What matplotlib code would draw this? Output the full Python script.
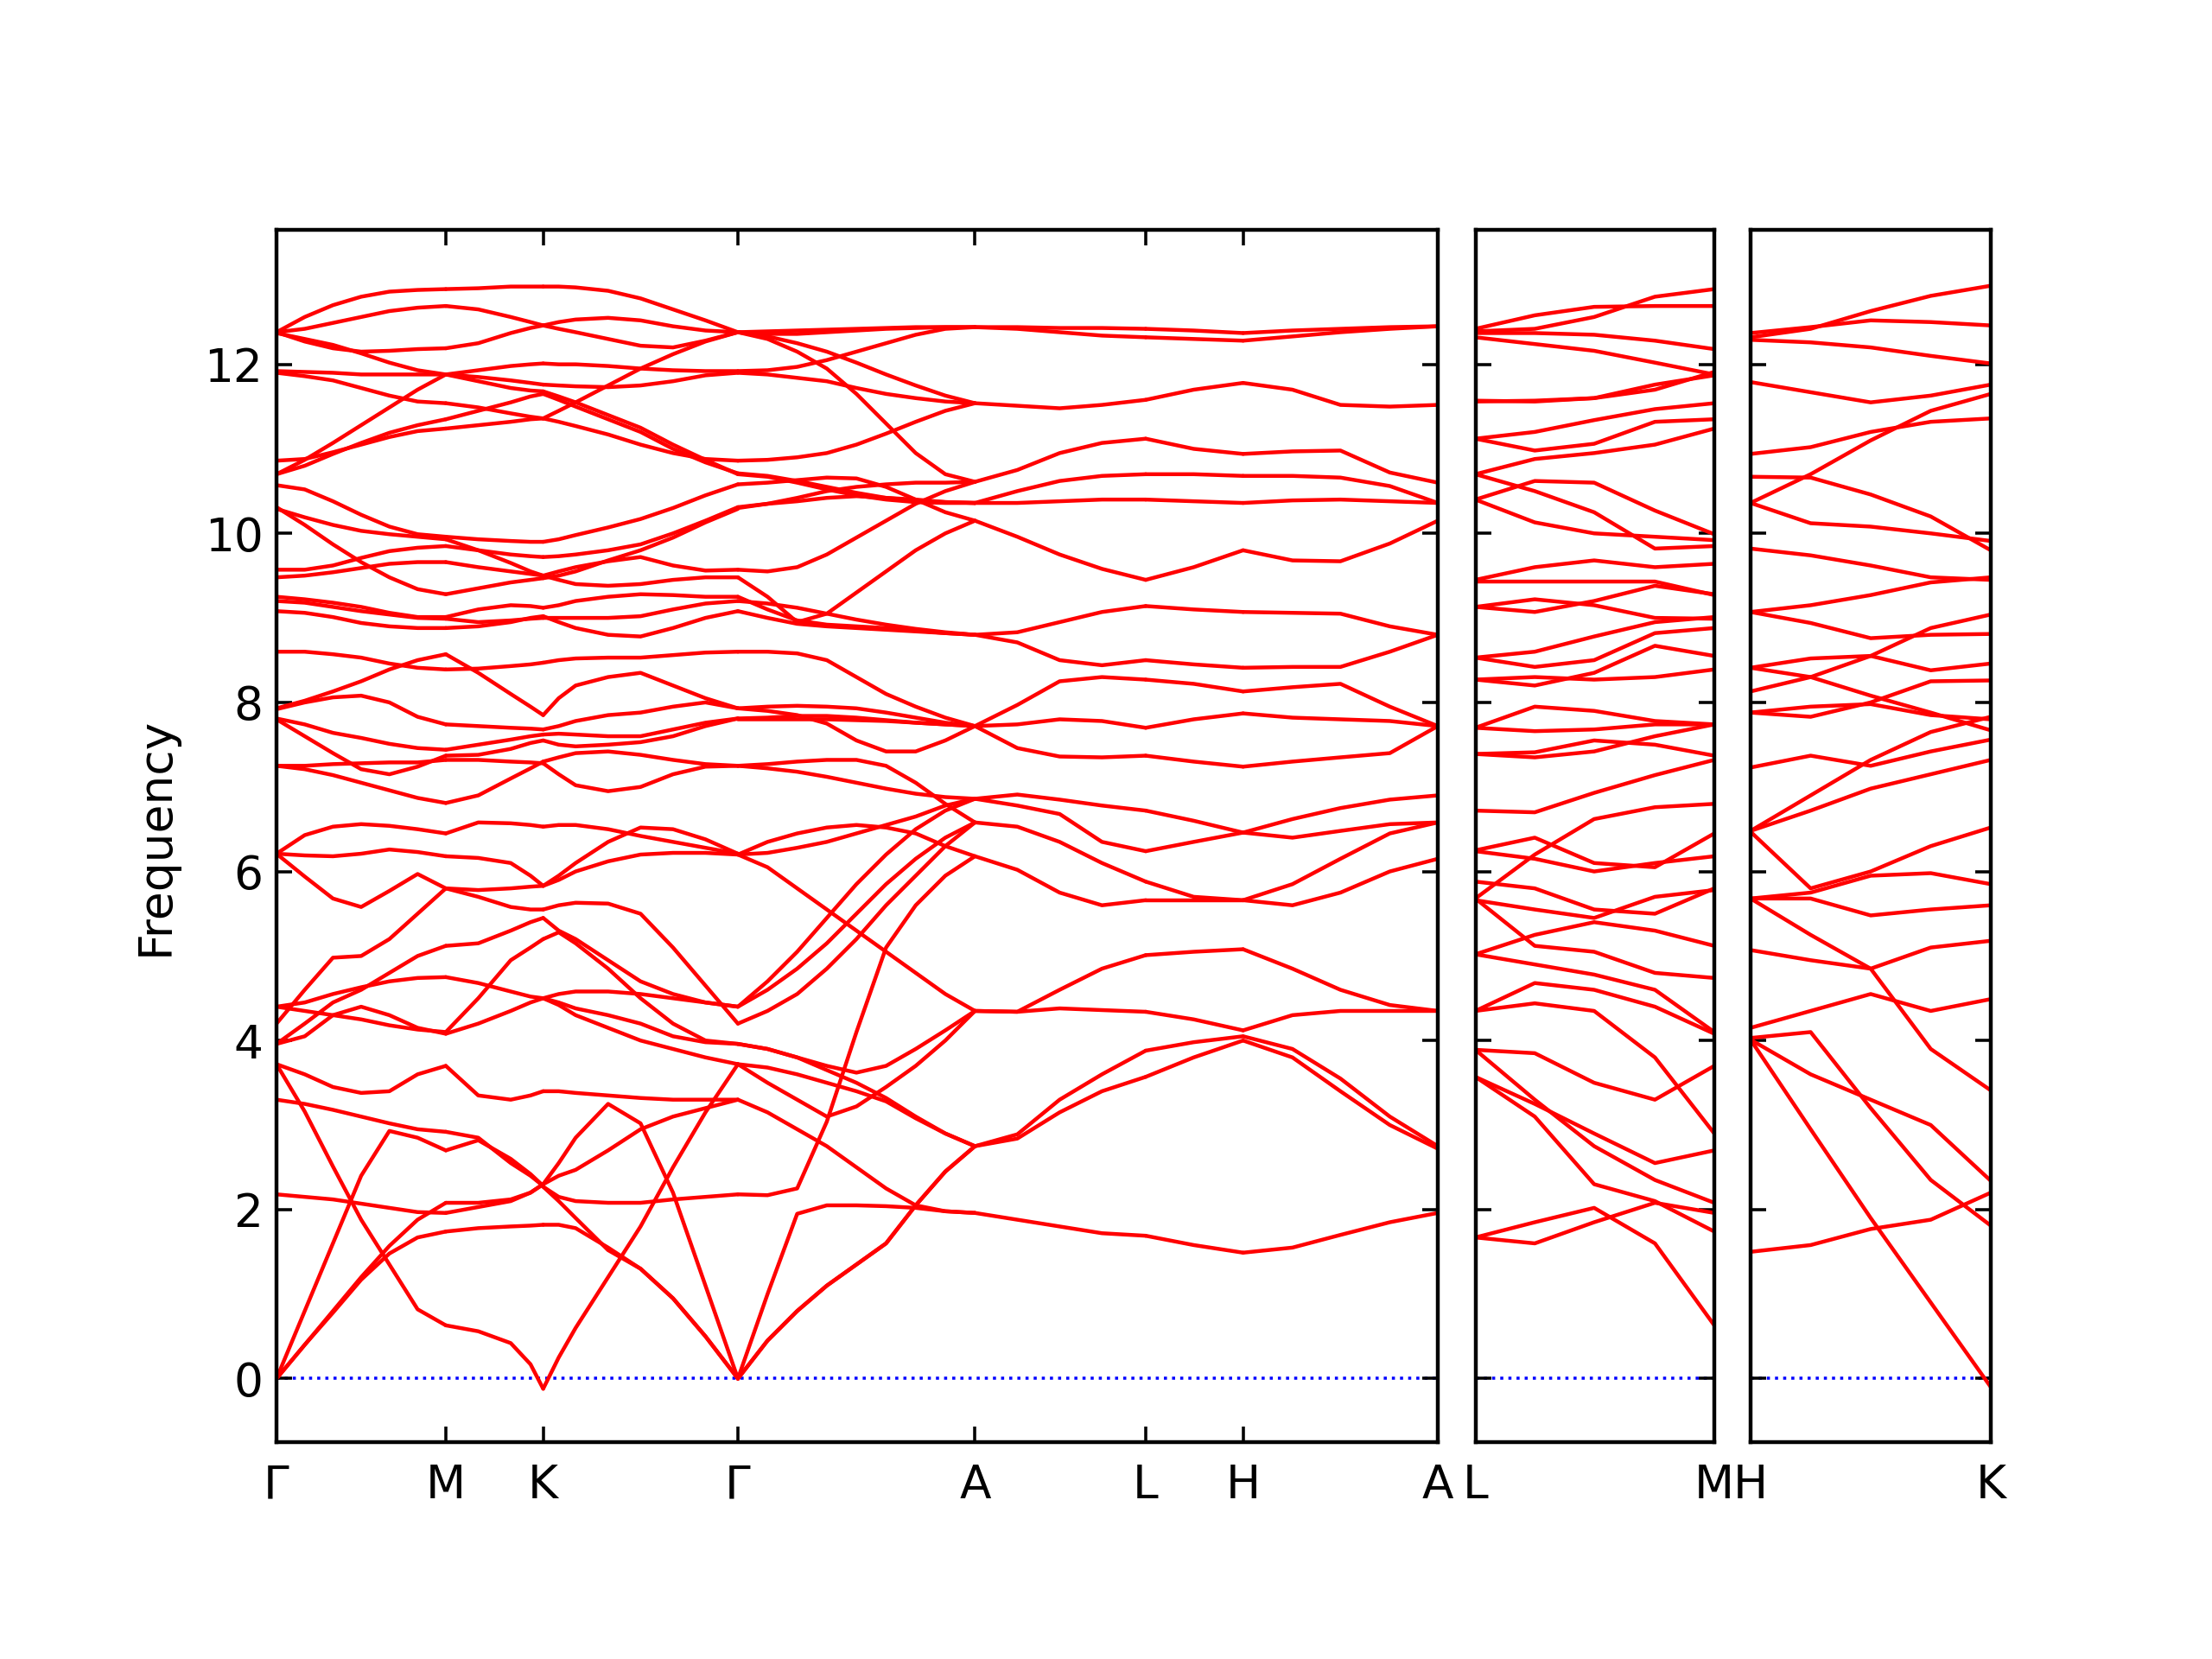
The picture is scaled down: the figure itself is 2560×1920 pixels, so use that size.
import matplotlib
matplotlib.use("Agg")
import matplotlib.pyplot as plt

# ---------------- path coordinates (distance along the q-path) ----------------
x_GM = [0, 20, 40, 60, 80, 100, 120]
x_MK = [120, 143, 166, 180, 189]
x_KG = [189, 200, 212, 235, 258, 281, 304, 327]
x_GA = [327, 348, 369, 390, 411, 432, 453, 474, 495]
x_AL = [495, 525, 555, 585, 616]
x_LH = [616, 650, 685]
x_HA = [685, 720, 754, 789, 823]
x_LM = [0, 42, 84, 127, 169]
x_HK = [0, 42.5, 85, 127.5, 170]

ticks_p1 = [0, 120, 189, 327, 495, 616, 685, 823]
labels_p1 = ["Γ", "M", "K", "Γ", "A", "L", "H", "A"]
ticks_p2 = [0, 169]
labels_p2 = ["L", "M"]
ticks_p3 = [0, 170]
labels_p3 = ["H", "K"]

# ---------------- frequencies (one row per branch, one column per x) ----------------
f_GM = [
    [12.38, 12.56, 12.70, 12.80, 12.86, 12.88, 12.89],
    [12.38, 12.42, 12.49, 12.56, 12.63, 12.67, 12.69],
    [12.38, 12.27, 12.19, 12.15, 12.16, 12.18, 12.19],
    [12.37, 12.30, 12.23, 12.13, 12.02, 11.93, 11.88],
    [11.92, 11.91, 11.90, 11.88, 11.88, 11.88, 11.88],
    [11.90, 11.86, 11.81, 11.72, 11.63, 11.56, 11.54],
    [10.70, 10.87, 11.07, 11.28, 11.49, 11.70, 11.88],
    [10.86, 10.88, 10.96, 11.05, 11.14, 11.21, 11.24],
    [10.70, 10.80, 10.94, 11.07, 11.19, 11.28, 11.35],
    [10.57, 10.52, 10.38, 10.22, 10.08, 9.99, 9.96],
    [10.31, 10.10, 9.87, 9.66, 9.48, 9.34, 9.28],
    [10.29, 10.19, 10.10, 10.03, 9.99, 9.96, 9.93],
    [9.57, 9.57, 9.62, 9.71, 9.79, 9.83, 9.85],
    [9.48, 9.50, 9.54, 9.59, 9.64, 9.66, 9.66],
    [9.25, 9.22, 9.18, 9.13, 9.06, 9.01, 9.01],
    [9.20, 9.18, 9.13, 9.08, 9.04, 9.00, 8.99],
    [9.08, 9.06, 9.01, 8.94, 8.90, 8.88, 8.88],
    [8.60, 8.60, 8.57, 8.53, 8.46, 8.41, 8.39],
    [7.93, 8.02, 8.13, 8.25, 8.39, 8.50, 8.57],
    [7.92, 8.00, 8.06, 8.08, 8.00, 7.83, 7.74],
    [7.81, 7.74, 7.64, 7.58, 7.51, 7.46, 7.44],
    [7.80, 7.60, 7.40, 7.21, 7.15, 7.24, 7.37],
    [7.25, 7.25, 7.27, 7.28, 7.29, 7.29, 7.32],
    [7.25, 7.21, 7.14, 7.05, 6.96, 6.87, 6.81],
    [6.21, 6.43, 6.53, 6.56, 6.54, 6.50, 6.45],
    [6.21, 6.19, 6.18, 6.21, 6.26, 6.23, 6.18],
    [6.21, 5.94, 5.68, 5.58, 5.77, 5.97, 5.80],
    [4.20, 4.60, 4.98, 5.00, 5.20, 5.50, 5.80],
    [3.96, 4.20, 4.45, 4.60, 4.80, 5.00, 5.12],
    [4.40, 4.45, 4.55, 4.63, 4.70, 4.74, 4.75],
    [4.40, 4.35, 4.30, 4.25, 4.18, 4.13, 4.10],
    [3.96, 4.05, 4.30, 4.40, 4.30, 4.15, 4.08],
    [3.72, 3.60, 3.45, 3.38, 3.40, 3.60, 3.70],
    [3.72, 3.16, 2.51, 1.88, 1.35, 0.82, 0.63],
    [3.30, 3.25, 3.18, 3.10, 3.02, 2.95, 2.92],
    [2.18, 2.15, 2.12, 2.07, 2.02, 1.97, 1.96],
    [0.00, 0.80, 1.60, 2.40, 2.93, 2.85, 2.70],
    [0.00, 0.40, 0.78, 1.17, 1.48, 1.67, 1.74],
    [0.00, 0.40, 0.80, 1.20, 1.57, 1.88, 2.08],
]

f_MK = [
    [12.89, 12.90, 12.92, 12.92, 12.92],
    [12.69, 12.65, 12.56, 12.50, 12.46],
    [12.19, 12.25, 12.37, 12.43, 12.46],
    [11.88, 11.85, 11.81, 11.78, 11.76],
    [11.88, 11.93, 11.98, 12.00, 12.01],
    [11.54, 11.49, 11.42, 11.38, 11.36],
    [11.88, 11.80, 11.72, 11.69, 11.68],
    [11.24, 11.28, 11.32, 11.35, 11.36],
    [11.35, 11.45, 11.55, 11.62, 11.65],
    [9.96, 9.93, 9.91, 9.90, 9.90],
    [9.93, 9.80, 9.65, 9.55, 9.50],
    [9.85, 9.80, 9.75, 9.73, 9.72],
    [9.28, 9.35, 9.42, 9.45, 9.47],
    [9.66, 9.60, 9.55, 9.52, 9.50],
    [9.01, 9.10, 9.15, 9.14, 9.12],
    [8.99, 8.95, 8.97, 8.99, 9.00],
    [8.88, 8.90, 8.95, 9.00, 9.02],
    [8.39, 8.40, 8.43, 8.45, 8.47],
    [8.57, 8.35, 8.10, 7.95, 7.85],
    [7.74, 7.72, 7.70, 7.69, 7.68],
    [7.44, 7.50, 7.56, 7.60, 7.62],
    [7.37, 7.38, 7.45, 7.52, 7.55],
    [7.32, 7.32, 7.30, 7.29, 7.28],
    [6.81, 6.90, 7.10, 7.22, 7.30],
    [6.45, 6.58, 6.57, 6.55, 6.53],
    [6.18, 6.16, 6.10, 5.95, 5.83],
    [5.80, 5.70, 5.58, 5.55, 5.55],
    [5.80, 5.78, 5.80, 5.82, 5.83],
    [5.12, 5.15, 5.30, 5.40, 5.45],
    [4.10, 4.50, 4.95, 5.10, 5.20],
    [4.75, 4.68, 4.58, 4.52, 4.50],
    [4.08, 4.20, 4.35, 4.45, 4.50],
    [3.70, 3.35, 3.30, 3.35, 3.40],
    [0.63, 0.56, 0.42, 0.17, -0.12],
    [2.92, 2.85, 2.55, 2.40, 2.28],
    [2.70, 2.82, 2.60, 2.42, 2.28],
    [2.08, 2.08, 2.12, 2.20, 2.30],
    [1.96, 2.03, 2.10, 2.20, 2.30],
    [1.74, 1.78, 1.80, 1.81, 1.82],
]

f_KG = [
    [12.92, 12.92, 12.91, 12.87, 12.78, 12.65, 12.52, 12.38],
    [12.46, 12.50, 12.53, 12.55, 12.52, 12.45, 12.40, 12.38],
    [12.46, 12.42, 12.38, 12.30, 12.22, 12.20, 12.28, 12.38],
    [12.01, 12.00, 12.00, 11.98, 11.95, 11.93, 11.92, 11.92],
    [11.36, 11.45, 11.55, 11.75, 11.95, 12.12, 12.27, 12.38],
    [11.76, 11.75, 11.74, 11.73, 11.75, 11.80, 11.87, 11.90],
    [11.68, 11.62, 11.55, 11.40, 11.25, 11.05, 10.87, 10.70],
    [11.65, 11.58, 11.50, 11.35, 11.20, 11.00, 10.84, 10.71],
    [11.36, 11.32, 11.27, 11.17, 11.05, 10.95, 10.88, 10.86],
    [9.90, 9.93, 9.98, 10.07, 10.17, 10.30, 10.45, 10.58],
    [9.72, 9.73, 9.75, 9.80, 9.87, 10.00, 10.15, 10.31],
    [9.47, 9.50, 9.55, 9.68, 9.80, 9.95, 10.13, 10.29],
    [9.50, 9.55, 9.60, 9.67, 9.72, 9.62, 9.56, 9.57],
    [9.50, 9.45, 9.40, 9.38, 9.40, 9.45, 9.48, 9.48],
    [9.12, 9.15, 9.20, 9.25, 9.28, 9.27, 9.25, 9.25],
    [9.00, 9.00, 9.00, 9.00, 9.02, 9.10, 9.17, 9.20],
    [9.02, 8.95, 8.88, 8.80, 8.78, 8.88, 9.00, 9.08],
    [8.47, 8.50, 8.52, 8.53, 8.53, 8.56, 8.59, 8.60],
    [7.85, 8.05, 8.20, 8.30, 8.35, 8.20, 8.05, 7.93],
    [7.68, 7.72, 7.78, 7.85, 7.88, 7.95, 8.00, 7.93],
    [7.62, 7.63, 7.62, 7.60, 7.60, 7.68, 7.76, 7.81],
    [7.55, 7.50, 7.48, 7.50, 7.53, 7.60, 7.72, 7.81],
    [7.28, 7.15, 7.02, 6.95, 7.00, 7.15, 7.24, 7.25],
    [7.30, 7.35, 7.40, 7.42, 7.38, 7.32, 7.27, 7.25],
    [6.53, 6.55, 6.55, 6.50, 6.42, 6.35, 6.28, 6.21],
    [5.83, 5.95, 6.10, 6.35, 6.52, 6.50, 6.38, 6.21],
    [5.83, 5.90, 6.00, 6.12, 6.20, 6.22, 6.22, 6.20],
    [5.55, 5.60, 5.63, 5.62, 5.50, 5.10, 4.65, 4.20],
    [5.45, 5.30, 5.20, 4.95, 4.70, 4.55, 4.45, 4.40],
    [5.20, 5.28, 5.15, 4.85, 4.50, 4.20, 4.00, 3.96],
    [4.50, 4.55, 4.58, 4.58, 4.55, 4.50, 4.45, 4.40],
    [4.50, 4.45, 4.38, 4.30, 4.20, 4.05, 3.98, 3.96],
    [4.50, 4.42, 4.30, 4.15, 4.00, 3.90, 3.80, 3.72],
    [3.40, 3.40, 3.38, 3.35, 3.32, 3.30, 3.30, 3.30],
    [2.30, 2.55, 2.85, 3.25, 3.02, 2.20, 1.10, 0.00],
    [2.30, 2.40, 2.47, 2.70, 2.95, 3.10, 3.20, 3.30],
    [2.27, 2.15, 2.10, 2.08, 2.08, 2.12, 2.15, 2.18],
    [2.27, 2.10, 1.90, 1.52, 1.30, 0.95, 0.50, 0.00],
    [1.82, 1.82, 1.78, 1.55, 1.30, 0.95, 0.50, 0.00],
    [-0.12, 0.25, 0.60, 1.20, 1.80, 2.50, 3.15, 3.72],
]

f_GA = [
    [12.38, 12.39, 12.40, 12.41, 12.42, 12.43, 12.44, 12.44, 12.44],
    [12.38, 12.36, 12.36, 12.38, 12.40, 12.42, 12.43, 12.44, 12.44],
    [12.38, 12.33, 12.25, 12.15, 12.02, 11.88, 11.75, 11.63, 11.54],
    [12.38, 12.30, 12.15, 11.95, 11.65, 11.30, 10.95, 10.70, 10.61],
    [11.92, 11.93, 11.97, 12.05, 12.15, 12.25, 12.35, 12.42, 12.44],
    [11.90, 11.88, 11.84, 11.80, 11.72, 11.65, 11.60, 11.56, 11.54],
    [10.86, 10.87, 10.90, 10.95, 11.05, 11.18, 11.32, 11.45, 11.54],
    [10.71, 10.68, 10.62, 10.55, 10.48, 10.42, 10.39, 10.37, 10.36],
    [10.70, 10.67, 10.60, 10.52, 10.45, 10.40, 10.37, 10.36, 10.36],
    [10.58, 10.60, 10.63, 10.66, 10.65, 10.55, 10.40, 10.25, 10.15],
    [10.31, 10.35, 10.38, 10.42, 10.44, 10.42, 10.40, 10.37, 10.36],
    [10.30, 10.35, 10.42, 10.50, 10.55, 10.58, 10.60, 10.60, 10.61],
    [9.57, 9.55, 9.60, 9.75, 9.95, 10.15, 10.35, 10.50, 10.61],
    [9.48, 9.25, 8.95, 9.05, 9.30, 9.55, 9.80, 10.00, 10.15],
    [9.25, 9.10, 8.97, 8.92, 8.90, 8.88, 8.85, 8.82, 8.80],
    [9.20, 9.17, 9.12, 9.05, 8.98, 8.92, 8.87, 8.83, 8.80],
    [9.08, 9.00, 8.93, 8.90, 8.88, 8.86, 8.84, 8.82, 8.80],
    [8.60, 8.60, 8.58, 8.50, 8.30, 8.10, 7.95, 7.82, 7.72],
    [7.93, 7.95, 7.96, 7.95, 7.93, 7.88, 7.82, 7.76, 7.72],
    [7.93, 7.90, 7.85, 7.75, 7.55, 7.42, 7.42, 7.55, 7.72],
    [7.81, 7.82, 7.84, 7.84, 7.82, 7.79, 7.76, 7.74, 7.72],
    [7.80, 7.80, 7.80, 7.80, 7.79, 7.78, 7.76, 7.74, 7.72],
    [7.25, 7.27, 7.30, 7.32, 7.32, 7.25, 7.05, 6.80, 6.58],
    [7.25, 7.22, 7.18, 7.12, 7.05, 6.98, 6.92, 6.88, 6.86],
    [6.20, 6.35, 6.45, 6.52, 6.55, 6.52, 6.45, 6.30, 6.18],
    [6.20, 6.05, 5.80, 5.55, 5.30, 5.05, 4.80, 4.55, 4.35],
    [6.20, 6.22, 6.28, 6.35, 6.45, 6.55, 6.65, 6.78, 6.86],
    [4.40, 4.70, 5.05, 5.45, 5.85, 6.20, 6.50, 6.72, 6.86],
    [4.40, 4.60, 4.85, 5.15, 5.50, 5.85, 6.15, 6.40, 6.58],
    [4.20, 4.35, 4.55, 4.85, 5.20, 5.60, 5.95, 6.30, 6.58],
    [3.72, 3.50, 3.30, 3.10, 3.22, 3.45, 3.70, 4.00, 4.35],
    [3.96, 3.90, 3.80, 3.70, 3.62, 3.70, 3.90, 4.12, 4.35],
    [3.96, 3.90, 3.80, 3.65, 3.50, 3.32, 3.10, 2.90, 2.75],
    [3.72, 3.68, 3.60, 3.50, 3.40, 3.28, 3.08, 2.90, 2.75],
    [3.30, 3.15, 2.95, 2.75, 2.50, 2.25, 2.05, 1.98, 1.96],
    [2.18, 2.17, 2.25, 3.04, 4.10, 5.10, 5.60, 5.95, 6.18],
    [0.00, 1.00, 1.95, 2.05, 2.05, 2.04, 2.02, 1.98, 1.96],
    [0.00, 0.45, 0.80, 1.10, 1.35, 1.60, 2.05, 2.45, 2.75],
    [0.00, 0.45, 0.80, 1.10, 1.35, 1.60, 2.05, 2.45, 2.75],
]

f_AL = [
    [12.44, 12.44, 12.43, 12.43, 12.42],
    [12.44, 12.42, 12.38, 12.34, 12.32],
    [11.54, 11.51, 11.48, 11.52, 11.58],
    [10.61, 10.75, 10.95, 11.07, 11.12],
    [10.36, 10.50, 10.62, 10.68, 10.70],
    [10.36, 10.36, 10.38, 10.40, 10.40],
    [10.15, 9.96, 9.75, 9.58, 9.45],
    [8.80, 8.83, 8.95, 9.07, 9.14],
    [8.80, 8.71, 8.50, 8.44, 8.50],
    [7.72, 7.97, 8.25, 8.30, 8.27],
    [7.72, 7.74, 7.80, 7.78, 7.70],
    [7.72, 7.46, 7.36, 7.35, 7.37],
    [6.86, 6.91, 6.85, 6.78, 6.72],
    [6.58, 6.53, 6.35, 6.10, 5.88],
    [6.86, 6.78, 6.68, 6.35, 6.24],
    [6.18, 6.02, 5.75, 5.60, 5.66],
    [4.35, 4.34, 4.38, 4.36, 4.34],
    [4.35, 4.34, 4.60, 4.85, 5.01],
    [2.75, 2.84, 3.15, 3.40, 3.57],
    [2.75, 2.89, 3.30, 3.60, 3.88],
    [1.96, 1.88, 1.80, 1.72, 1.69],
]

f_LH = [
    [12.42, 12.40, 12.37],
    [12.32, 12.30, 12.28],
    [11.58, 11.70, 11.78],
    [11.12, 11.00, 10.94],
    [10.70, 10.70, 10.68],
    [10.40, 10.38, 10.36],
    [9.45, 9.60, 9.80],
    [9.14, 9.10, 9.07],
    [8.50, 8.45, 8.41],
    [8.27, 8.22, 8.13],
    [7.70, 7.80, 7.87],
    [7.37, 7.30, 7.24],
    [6.72, 6.60, 6.46],
    [6.24, 6.35, 6.46],
    [5.88, 5.70, 5.66],
    [5.66, 5.66, 5.66],
    [5.01, 5.05, 5.08],
    [4.34, 4.25, 4.12],
    [3.88, 3.98, 4.05],
    [3.57, 3.80, 4.00],
    [1.69, 1.58, 1.49],
]

f_HA = [
    [12.37, 12.40, 12.42, 12.44, 12.45],
    [12.28, 12.33, 12.38, 12.42, 12.45],
    [11.78, 11.70, 11.52, 11.50, 11.52],
    [10.94, 10.97, 10.98, 10.72, 10.60],
    [10.68, 10.68, 10.66, 10.56, 10.36],
    [10.36, 10.39, 10.40, 10.38, 10.36],
    [9.80, 9.68, 9.67, 9.88, 10.15],
    [9.07, 9.06, 9.05, 8.90, 8.80],
    [8.41, 8.42, 8.42, 8.60, 8.80],
    [8.13, 8.18, 8.22, 7.95, 7.72],
    [7.87, 7.82, 7.80, 7.78, 7.72],
    [7.24, 7.30, 7.35, 7.40, 7.72],
    [6.46, 6.62, 6.75, 6.85, 6.90],
    [6.46, 6.40, 6.48, 6.56, 6.58],
    [5.66, 5.60, 5.75, 6.00, 6.15],
    [5.66, 5.85, 6.15, 6.45, 6.58],
    [5.08, 4.85, 4.60, 4.42, 4.35],
    [4.12, 4.30, 4.35, 4.35, 4.35],
    [4.05, 3.90, 3.55, 3.10, 2.75],
    [4.00, 3.80, 3.40, 3.00, 2.72],
    [1.49, 1.55, 1.70, 1.85, 1.96],
]

f_LM = [
    [12.42, 12.58, 12.68, 12.69, 12.69],
    [12.39, 12.42, 12.56, 12.80, 12.89],
    [12.37, 12.37, 12.35, 12.28, 12.18],
    [12.32, 12.24, 12.16, 12.02, 11.88],
    [11.57, 11.56, 11.60, 11.70, 11.91],
    [11.56, 11.57, 11.60, 11.76, 11.87],
    [11.12, 11.20, 11.34, 11.47, 11.54],
    [11.12, 10.98, 11.06, 11.32, 11.35],
    [10.70, 10.88, 10.95, 11.05, 11.24],
    [10.40, 10.62, 10.60, 10.27, 9.99],
    [10.70, 10.50, 10.25, 9.82, 9.85],
    [10.40, 10.13, 10.00, 9.96, 9.92],
    [9.45, 9.60, 9.68, 9.60, 9.64],
    [9.43, 9.43, 9.43, 9.43, 9.27],
    [9.13, 9.22, 9.15, 9.00, 8.99],
    [9.13, 9.07, 9.20, 9.38, 9.28],
    [8.53, 8.60, 8.78, 8.95, 9.01],
    [8.53, 8.42, 8.50, 8.82, 8.88],
    [8.27, 8.30, 8.27, 8.30, 8.39],
    [8.27, 8.20, 8.35, 8.67, 8.55],
    [7.70, 7.95, 7.90, 7.78, 7.74],
    [7.70, 7.66, 7.68, 7.74, 7.74],
    [7.39, 7.35, 7.42, 7.60, 7.74],
    [7.39, 7.41, 7.55, 7.50, 7.37],
    [6.72, 6.70, 6.93, 7.14, 7.32],
    [5.68, 6.20, 6.62, 6.76, 6.80],
    [6.25, 6.40, 6.10, 6.05, 6.45],
    [6.24, 6.15, 6.00, 6.10, 6.18],
    [5.88, 5.80, 5.55, 5.50, 5.80],
    [5.66, 5.55, 5.45, 5.70, 5.78],
    [5.68, 5.12, 5.05, 4.80, 4.74],
    [5.02, 5.25, 5.40, 5.30, 5.12],
    [5.02, 4.90, 4.78, 4.60, 4.10],
    [4.35, 4.68, 4.60, 4.40, 4.08],
    [4.35, 4.44, 4.35, 3.80, 2.90],
    [3.89, 3.85, 3.50, 3.30, 3.70],
    [3.89, 3.30, 2.75, 2.35, 2.08],
    [3.57, 3.25, 2.90, 2.55, 2.70],
    [3.57, 3.10, 2.30, 2.10, 1.74],
    [1.67, 1.60, 1.85, 2.08, 1.96],
    [1.67, 1.85, 2.02, 1.60, 0.63],
]

f_HK = [
    [12.37, 12.44, 12.52, 12.50, 12.46],
    [12.32, 12.42, 12.63, 12.81, 12.93],
    [12.29, 12.26, 12.20, 12.10, 12.01],
    [11.79, 11.67, 11.55, 11.63, 11.76],
    [10.94, 11.02, 11.20, 11.32, 11.36],
    [10.36, 10.70, 11.10, 11.45, 11.65],
    [10.67, 10.66, 10.46, 10.20, 9.80],
    [10.36, 10.12, 10.08, 10.00, 9.91],
    [9.82, 9.74, 9.62, 9.48, 9.45],
    [9.07, 9.15, 9.27, 9.42, 9.48],
    [9.07, 8.94, 8.76, 8.80, 8.81],
    [8.41, 8.52, 8.55, 8.38, 8.46],
    [8.41, 8.30, 8.08, 7.88, 7.67],
    [8.13, 8.30, 8.55, 8.88, 9.04],
    [7.88, 7.83, 8.00, 8.25, 8.26],
    [7.23, 7.37, 7.25, 7.42, 7.56],
    [7.88, 7.95, 7.98, 7.85, 7.80],
    [6.48, 6.90, 7.32, 7.65, 7.83],
    [6.48, 6.72, 6.98, 7.15, 7.32],
    [6.47, 5.80, 6.00, 6.30, 6.52],
    [5.68, 5.75, 5.95, 5.98, 5.85],
    [5.68, 5.68, 5.48, 5.55, 5.60],
    [5.68, 5.25, 4.85, 3.90, 3.41],
    [5.07, 4.95, 4.85, 5.10, 5.18],
    [4.15, 4.35, 4.55, 4.35, 4.49],
    [4.01, 3.60, 3.30, 3.00, 2.34],
    [4.03, 4.10, 3.20, 2.35, 1.81],
    [4.01, 2.95, 1.90, 0.90, -0.10],
    [1.50, 1.58, 1.77, 1.88, 2.20],
]

# ---------------- figure ----------------
plt.rcParams["font.family"] = ["DejaVu Sans"]
fig = plt.figure(figsize=(8, 6), dpi=320)
bottom, height = 0.1308, 0.7306
ax1 = fig.add_axes([0.125, bottom, 0.525, height])
ax2 = fig.add_axes([0.667, bottom, 0.108, height])
ax3 = fig.add_axes([0.7914, bottom, 0.1086, height])

band_color = "#ff0000"
lw = 1.0

panels = [
    (ax1, [(x_GM, f_GM), (x_MK, f_MK), (x_KG, f_KG), (x_GA, f_GA),
           (x_AL, f_AL), (x_LH, f_LH), (x_HA, f_HA)], ticks_p1, labels_p1),
    (ax2, [(x_LM, f_LM)], ticks_p2, labels_p2),
    (ax3, [(x_HK, f_HK)], ticks_p3, labels_p3),
]

for ax, segs, ticks, labels in panels:
    for xs, branches in segs:
        for br in branches:
            ax.plot(xs, br, color=band_color, lw=lw, solid_joinstyle="round",
                    solid_capstyle="round")
    ax.set_xlim(ticks[0], ticks[-1])
    ax.set_ylim(-0.75, 13.59)
    ax.axhline(0, color="blue", ls=":", lw=0.8, zorder=0)
    ax.set_xticks(ticks)
    ax.set_xticklabels(labels, fontsize=12)
    ax.set_yticks([0, 2, 4, 6, 8, 10, 12])
    ax.tick_params(direction="in", top=True, right=True, length=4, width=0.8,
                   labelsize=12)
    ax.tick_params(axis="x", pad=5.5)
    for sp in ax.spines.values():
        sp.set_linewidth(1.0)

ax1.set_ylabel("Frequency", fontsize=12, labelpad=7)
ax2.tick_params(labelleft=False)
ax3.tick_params(labelleft=False)

fig.savefig("out.png", dpi=320, facecolor="white")
